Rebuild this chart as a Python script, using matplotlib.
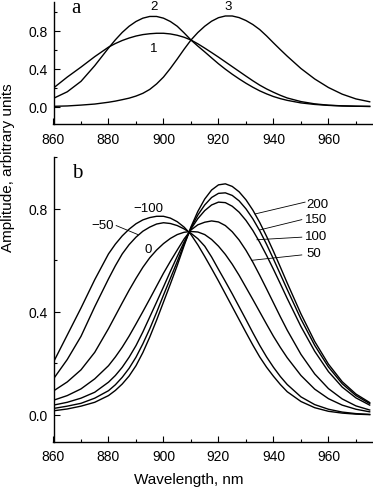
"""Band shapes near 900 nm: reference curves (a) and the shifted series (b)."""

import matplotlib

matplotlib.use("Agg")
import matplotlib.pyplot as plt
from matplotlib.ticker import FormatStrFormatter, MultipleLocator


FIG_W, FIG_H = 373, 489
FONT = "Liberation Sans"

# denser sampling round the peaks
WAVELENGTH = [860, 865, 870, 875, 880, 882.5, 885, 887.5, 890, 892.5, 895,
              897.5, 900, 902.5, 905, 907.5, 910, 912.5, 915, 917.5, 920,
              922.5, 925, 927.5, 930, 932.5, 935, 937.5, 940, 942.5, 945,
              950, 955, 960, 965, 970, 975]

# panel a
CURVE_1 = [0.195, 0.31, 0.415, 0.525, 0.625, 0.663, 0.695, 0.721, 0.742, 0.757,
           0.766, 0.771, 0.771, 0.764, 0.75, 0.729, 0.70, 0.66, 0.615, 0.568,
           0.52, 0.47, 0.42, 0.37, 0.32, 0.271, 0.225, 0.185, 0.15, 0.118,
           0.09, 0.052, 0.028, 0.014, 0.007, 0.003, 0.001]
CURVE_2 = [0.086, 0.155, 0.265, 0.43, 0.615, 0.702, 0.78, 0.845, 0.895, 0.930,
           0.948, 0.948, 0.93, 0.895, 0.845, 0.775, 0.70, 0.636, 0.575, 0.512,
           0.45, 0.393, 0.34, 0.291, 0.245, 0.203, 0.165, 0.133, 0.105, 0.083,
           0.065, 0.038, 0.022, 0.012, 0.006, 0.003, 0.001]
CURVE_3 = [0.002, 0.006, 0.015, 0.026, 0.045, 0.057, 0.072, 0.088, 0.11, 0.139,
           0.18, 0.238, 0.31, 0.401, 0.50, 0.603, 0.70, 0.779, 0.845, 0.898,
           0.935, 0.953, 0.953, 0.936, 0.905, 0.863, 0.81, 0.743, 0.67, 0.599,
           0.53, 0.40, 0.29, 0.20, 0.13, 0.08, 0.05]

# panel b
AMP_M100 = [0.205, 0.31, 0.415, 0.525, 0.625, 0.663, 0.695, 0.721, 0.742, 0.757,
            0.766, 0.771, 0.771, 0.764, 0.75, 0.729, 0.70, 0.66, 0.615, 0.568,
            0.52, 0.47, 0.42, 0.37, 0.32, 0.271, 0.225, 0.185, 0.15, 0.118,
            0.09, 0.052, 0.028, 0.014, 0.007, 0.003, 0.001]
AMP_M50 = [0.14, 0.215, 0.305, 0.42, 0.528, 0.579, 0.625, 0.661, 0.69, 0.713,
           0.729, 0.741, 0.746, 0.743, 0.735, 0.722, 0.705, 0.684, 0.655, 0.613,
           0.565, 0.518, 0.47, 0.42, 0.37, 0.319, 0.27, 0.225, 0.185, 0.149,
           0.118, 0.07, 0.04, 0.022, 0.011, 0.005, 0.002]
AMP_0 = [0.093, 0.128, 0.175, 0.243, 0.335, 0.385, 0.435, 0.484, 0.53, 0.573,
         0.61, 0.64, 0.665, 0.685, 0.70, 0.709, 0.712, 0.71, 0.70, 0.681,
         0.655, 0.623, 0.585, 0.542, 0.495, 0.448, 0.40, 0.352, 0.305, 0.262,
         0.222, 0.153, 0.10, 0.063, 0.038, 0.022, 0.012]
AMP_50 = [0.057, 0.075, 0.101, 0.14, 0.191, 0.225, 0.263, 0.306, 0.353, 0.401,
          0.45, 0.50, 0.55, 0.596, 0.64, 0.683, 0.718, 0.738, 0.748, 0.753,
          0.749, 0.735, 0.711, 0.679, 0.639, 0.593, 0.542, 0.489, 0.435, 0.381,
          0.329, 0.235, 0.159, 0.102, 0.062, 0.035, 0.019]
AMP_100 = [0.038, 0.049, 0.065, 0.088, 0.127, 0.153, 0.185, 0.224, 0.269, 0.322,
           0.38, 0.438, 0.497, 0.557, 0.615, 0.671, 0.722, 0.762, 0.793, 0.815,
           0.826, 0.824, 0.81, 0.787, 0.755, 0.716, 0.67, 0.619, 0.565, 0.509,
           0.452, 0.343, 0.247, 0.168, 0.108, 0.066, 0.038]
AMP_150 = [0.025, 0.034, 0.045, 0.065, 0.094, 0.117, 0.146, 0.181, 0.224, 0.276,
           0.334, 0.398, 0.465, 0.53, 0.595, 0.663, 0.726, 0.776, 0.815, 0.844,
           0.86, 0.862, 0.852, 0.831, 0.80, 0.761, 0.715, 0.662, 0.605, 0.546,
           0.487, 0.372, 0.27, 0.186, 0.121, 0.075, 0.044]
AMP_200 = [0.016, 0.023, 0.034, 0.049, 0.075, 0.095, 0.12, 0.151, 0.191, 0.242,
           0.302, 0.368, 0.438, 0.508, 0.58, 0.657, 0.73, 0.79, 0.838, 0.873,
           0.893, 0.897, 0.887, 0.866, 0.835, 0.795, 0.747, 0.693, 0.635, 0.574,
           0.512, 0.392, 0.285, 0.197, 0.129, 0.081, 0.048]

SERIES_B = [AMP_M100, AMP_M50, AMP_0, AMP_50, AMP_100, AMP_150, AMP_200]

# label text, position (nm, amplitude), leader line start/end
LEFT_LABELS = [
    ("\u2212100", 894.5, 0.793, None),
    ("\u221250", 877.9, 0.725, ((882.8, 0.735), (890.7, 0.700))),
    ("0", 894.3, 0.634, None),
]
RIGHT_LABELS = [
    ("200", 952.1, 0.808, ((951.5, 0.826), (933.3, 0.780))),
    ("150", 951.5, 0.750, ((950.3, 0.758), (935.0, 0.718))),
    ("100", 951.5, 0.683, ((950.3, 0.690), (934.0, 0.680))),
    ("50", 952.1, 0.617, ((950.3, 0.621), (932.0, 0.600))),
]

X_LIM = (860, 976.2)
LABEL_SIZE = 9.5


def px_box(left, top, right, bottom):
    """Axes rectangle in figure fractions from pixel edges."""
    return [left / FIG_W, 1 - bottom / FIG_H,
            (right - left) / FIG_W, (bottom - top) / FIG_H]


def style_axes(ax, ylim):
    ax.set_xlim(*X_LIM)
    ax.set_ylim(*ylim)
    for side in ("top", "right"):
        ax.spines[side].set_visible(False)
    for side in ("left", "bottom"):
        ax.spines[side].set_linewidth(1.0)

    ax.xaxis.set_major_locator(MultipleLocator(20))
    ax.xaxis.set_minor_locator(MultipleLocator(10))
    ax.yaxis.set_major_locator(MultipleLocator(0.4))
    ax.yaxis.set_minor_locator(MultipleLocator(0.2))
    ax.yaxis.set_major_formatter(FormatStrFormatter("%.1f"))

    ax.tick_params(which="both", direction="in", width=0.8, labelsize=10)
    ax.tick_params(which="major", length=4.3)
    ax.tick_params(which="minor", length=2.2)
    ax.tick_params(axis="x", pad=5.4)
    ax.tick_params(axis="y", pad=4.5)


def draw_curve(ax, amp):
    ax.plot(WAVELENGTH, amp, color="black", lw=1.0, solid_joinstyle="round")


def main():
    plt.rcParams["font.family"] = [FONT, "DejaVu Sans"]

    fig = plt.figure(figsize=(FIG_W / 100, FIG_H / 100), dpi=100)
    ax_a = fig.add_axes(px_box(53.5, 3.3, 373, 125))
    ax_b = fig.add_axes(px_box(53.5, 158.3, 373, 442.7))

    # panel a
    for amp in (CURVE_1, CURVE_2, CURVE_3):
        draw_curve(ax_a, amp)
    style_axes(ax_a, (-0.184, 1.097))
    ax_a.text(866.6, 0.992, "a", family="Liberation Serif", fontsize=15,
              ha="left", va="baseline")
    for txt, x, y in (("2", 896.5, 1.026), ("3", 923.5, 1.026), ("1", 896.6, 0.587)):
        ax_a.text(x, y, txt, fontsize=LABEL_SIZE, ha="center", va="baseline")

    # panel b
    for amp in SERIES_B:
        draw_curve(ax_b, amp)
    style_axes(ax_b, (-0.104, 1.0))
    ax_b.text(866.6, 0.923, "b", family="Liberation Serif", fontsize=15,
              ha="left", va="baseline")

    for txt, x, y, leader in LEFT_LABELS:
        ax_b.text(x, y, txt, fontsize=LABEL_SIZE, ha="center", va="baseline")
        if leader:
            (x0, y0), (x1, y1) = leader
            ax_b.plot([x0, x1], [y0, y1], color="black", lw=0.6)
    for txt, x, y, leader in RIGHT_LABELS:
        ax_b.text(x, y, txt, fontsize=LABEL_SIZE, ha="left", va="baseline")
        (x0, y0), (x1, y1) = leader
        ax_b.plot([x0, x1], [y0, y1], color="black", lw=0.6)

    fig.text(8 / FIG_W, 1 - 167.5 / FIG_H, "Amplitude, arbitrary units",
             rotation=90, fontsize=11, ha="center", va="center")
    fig.text(189 / FIG_W, 1 - 480 / FIG_H, "Wavelength, nm",
             fontsize=11, ha="center", va="center")

    fig.savefig("out.png", dpi=100)
    plt.close(fig)


if __name__ == "__main__":
    main()
